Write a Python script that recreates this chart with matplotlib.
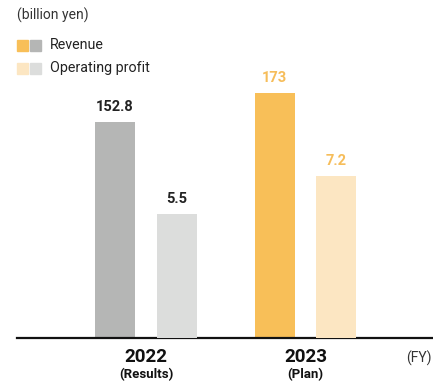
import matplotlib
matplotlib.use("Agg")
import matplotlib.pyplot as plt
from matplotlib.patches import Rectangle

plt.rcParams["font.family"] = ["Roboto", "DejaVu Sans"]

years = ["2022", "2023"]
year_notes = ["(Results)", "(Plan)"]
revenue = [152.8, 173]
operating_profit = [5.5, 7.2]
revenue_labels = ["152.8", "173"]
profit_labels = ["5.5", "7.2"]

revenue_colors = ["#B5B6B5", "#F8BF58"]
profit_colors = ["#DCDDDC", "#FCE6C2"]
label_colors = ["#222222", "#F6BD5A"]

fig = plt.figure(figsize=(4.33, 3.92), dpi=100)
ax = fig.add_axes([0, 0.1365, 1, 0.8635])
ax2 = ax.twinx()

x = [0, 1]
width = 0.251
offset = 0.194

ax.bar([i - offset for i in x], revenue, width, color=revenue_colors, zorder=2)
ax2.bar([i + offset for i in x], operating_profit, width, color=profit_colors, zorder=2)

ax.set_ylim(0, 239)
ax2.set_ylim(0, 15)
for a in (ax, ax2):
    a.set_xlim(-0.915, 1.799)
    a.axis("off")

for i in x:
    ax.annotate(revenue_labels[i], (i - offset, revenue[i]), xytext=(0, 6),
                textcoords="offset points", ha="center", va="bottom",
                fontsize=10.5, fontweight="bold", color=label_colors[i])
    ax2.annotate(profit_labels[i], (i + offset, operating_profit[i]), xytext=(0, 6),
                 textcoords="offset points", ha="center", va="bottom",
                 fontsize=10.5, fontweight="bold", color=label_colors[i])

# baseline
ax.axhline(0, xmin=17 / 433, xmax=1, color="#111111", lw=1.6, zorder=3, clip_on=False)

# category labels under the baseline
for i in x:
    ax.text(i, -0.055, years[i], transform=ax.get_xaxis_transform(), ha="center",
            va="center", fontsize=13.5, fontweight="bold", color="#111111")
    ax.text(i, -0.106, year_notes[i], transform=ax.get_xaxis_transform(), ha="center",
            va="center", fontsize=9.5, fontweight="bold", color="#111111")
fig.text(419 / 433, 1 - 358 / 392, "(FY)", ha="center", va="center", fontsize=10, color="#333333")

# unit and legend
fig.text(17 / 433, 1 - 15 / 392, "(billion yen)", ha="left", va="center", fontsize=10, color="#333333")
legend_rows = [("Revenue", revenue_colors[1], revenue_colors[0], 45),
               ("Operating profit", profit_colors[1], profit_colors[0], 68)]
for text, c1, c2, yc in legend_rows:
    for x0, c in ((17, c1), (30, c2)):
        fig.patches.append(Rectangle((x0 / 433, 1 - (yc + 5.5) / 392), 11 / 433, 11 / 392,
                                     transform=fig.transFigure, color=c))
    fig.text(50 / 433, 1 - yc / 392, text, ha="left", va="center", fontsize=10.3, color="#222222")

fig.savefig("out.png", dpi=100)
